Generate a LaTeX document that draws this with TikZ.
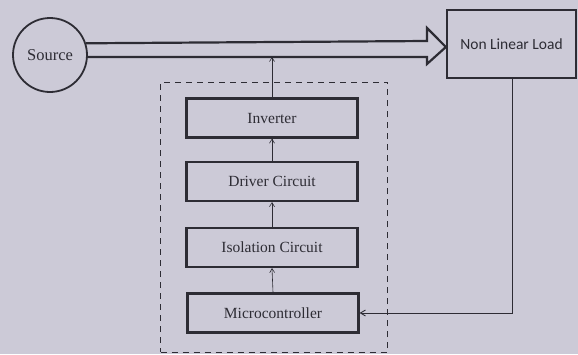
\documentclass[tikz,border=0pt]{standalone}
\usepackage{fontspec}
\setmainfont{Liberation Serif}
\newfontfamily\loadfont{Carlito}
\usetikzlibrary{arrows.meta}
\definecolor{paper}{RGB}{204,202,215}
\definecolor{ink}{RGB}{45,44,52}
\begin{document}
\begin{tikzpicture}[x=1pt,y=-1pt,
  blockbox/.style={draw=ink, line width=2.2pt, minimum width=171pt, minimum height=39pt, inner sep=0pt, font=\fontsize{15.5}{17}\selectfont, text=ink},
  smallarrow/.style={draw=ink, line width=0.6pt, -{Straight Barb[length=4pt,width=5pt]}},
  fbline/.style={draw=ink, line width=0.9pt, -{Straight Barb[length=5pt,width=6pt]}}]
\fill[paper] (0,0) rectangle (578,354);
\useasboundingbox (0,0) rectangle (578,354);
% source
\node[circle, draw=ink, line width=1.8pt, minimum size=74pt, inner sep=0pt, font=\fontsize{16.5}{18}\selectfont, text=ink] (src) at (50,55) {Source};
% load
\node[draw=ink, line width=2.2pt, minimum width=129pt, minimum height=68pt, inner sep=0pt, font=\loadfont\fontsize{15.5}{17}\selectfont, text=ink] (load) at (511.5,44) {Non Linear Load};
% double arrow
\coordinate (tip) at (load.west |- 0,47);
\draw[ink, line width=2.2pt, line join=miter]
  (src.18) -- (427,41) -- (427,28) -- (tip) -- (427,64) -- (427,57) -- (src.-3);
% dashed controller box
\node[draw=ink, dashed, dash pattern=on 6pt off 5pt, line width=1pt, minimum width=227pt, minimum height=270pt, inner sep=0pt] (ctrl) at (274,217) {};
% blocks
\node[blockbox] (inv) at (272,118) {Inverter};
\node[blockbox] (drv) at (272,181.5) {Driver Circuit};
\node[blockbox] (iso) at (272,247.5) {Isolation Circuit};
\node[blockbox] (mcu) at (273,313) {Microcontroller};
\coordinate (bus) at (inv.north |- 0,57);
\draw[smallarrow] (inv.north) -- (bus);
\draw[smallarrow] (drv.north) -- (inv.south);
\draw[smallarrow] (iso.north) -- (drv.south);
\draw[smallarrow] (mcu.north) -- (iso.south);
% feedback
\coordinate (fb) at (512,313);
\draw[fbline] (load.south -| fb) -- (fb) -- (mcu.east);
\end{tikzpicture}
\end{document}
